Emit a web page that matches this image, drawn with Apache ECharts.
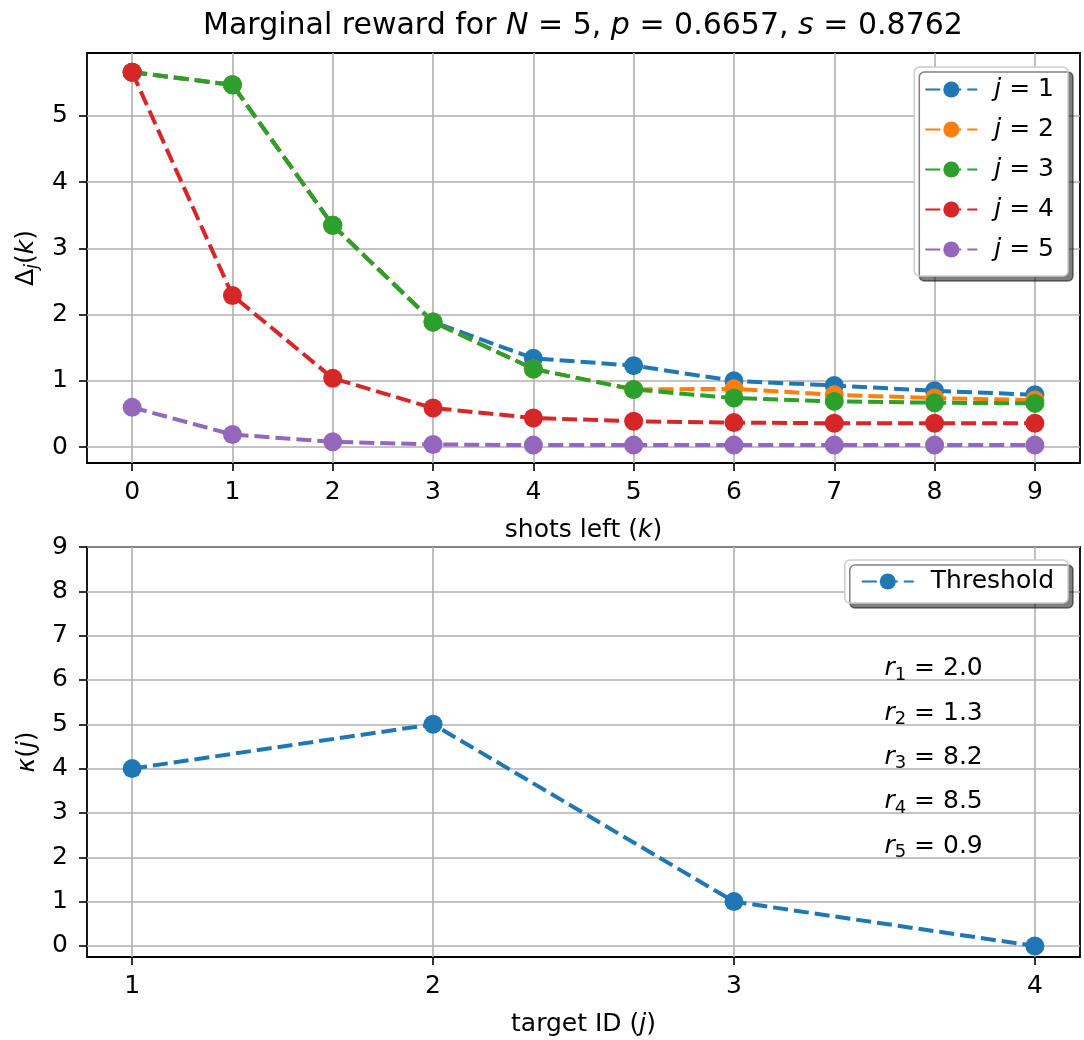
<!DOCTYPE html>
<html>
<head>
<meta charset="utf-8">
<script src="https://cdn.jsdelivr.net/npm/echarts@6/dist/echarts.min.js"></script>
<style>
html, body { margin: 0; padding: 0; background: #fff; }
#main { width: 1084px; height: 1040px; }
</style>
</head>
<body>
<div id="main"></div>
<script>
// top panel: marginal reward per target
const shotsLeft = [0, 1, 2, 3, 4, 5, 6, 7, 8, 9]
const deltaJ1 = [5.66, 5.47, 3.35, 1.89, 1.34, 1.23, 1.00, 0.93, 0.85, 0.79]
const deltaJ2 = [5.66, 5.47, 3.35, 1.89, 1.18, 0.87, 0.88, 0.79, 0.74, 0.71]
const deltaJ3 = [5.66, 5.47, 3.35, 1.89, 1.18, 0.87, 0.74, 0.69, 0.67, 0.66]
const deltaJ4 = [5.66, 2.29, 1.04, 0.59, 0.44, 0.39, 0.37, 0.36, 0.36, 0.36]
const deltaJ5 = [0.60, 0.19, 0.08, 0.04, 0.03, 0.03, 0.03, 0.03, 0.03, 0.03]
const topYTicks = [0, 1, 2, 3, 4, 5]

// bottom panel: threshold per target
const targetIds = [1, 2, 3, 4]
const thresholds = [4, 5, 1, 0]
const bottomYTicks = [0, 1, 2, 3, 4, 5, 6, 7, 8, 9]
const rewards = [2.0, 1.3, 8.2, 8.5, 0.9]

const colors = ['#1f77b4', '#ff7f0e', '#2ca02c', '#d62728', '#9467bd']
const FONT = 'DejaVu Sans'
const FS = 25

const richText = {
  n: { fontFamily: FONT, fontSize: FS, color: '#000', lineHeight: 30 },
  i: { fontFamily: FONT, fontSize: FS, color: '#000', fontStyle: 'italic', lineHeight: 30 },
  s: { fontFamily: FONT, fontSize: 18, color: '#000', lineHeight: 13, verticalAlign: 'bottom' },
  si: { fontFamily: FONT, fontSize: 18, color: '#000', fontStyle: 'italic', lineHeight: 13, verticalAlign: 'bottom' }
}

function makeAxis (opts) {
  const base = {
    type: 'value',
    axisLine: { show: false, onZero: false },
    axisTick: {
      show: true,
      length: 8,
      lineStyle: { color: '#000', width: 1.6 },
      customValues: opts.ticks
    },
    axisLabel: {
      customValues: opts.ticks,
      color: '#000',
      fontFamily: FONT,
      fontSize: FS,
      margin: opts.labelMargin
    },
    splitLine: { show: true, lineStyle: { color: '#b0b0b0', width: 1.6 } },
    nameLocation: 'middle',
    nameTextStyle: { rich: richText }
  }
  delete opts.ticks
  delete opts.labelMargin
  return Object.assign(base, opts)
}

function lineSeries (name, values, idx) {
  return {
    name: name,
    type: 'line',
    xAxisIndex: 0,
    yAxisIndex: 0,
    data: shotsLeft.map((k, i) => [k, values[i]]),
    symbol: 'circle',
    symbolSize: 19,
    itemStyle: { color: colors[idx] },
    lineStyle: { color: colors[idx], width: 4, type: [15, 6] },
    emphasis: { disabled: true }
  }
}

const legendBox = {
  orient: 'vertical',
  backgroundColor: '#fff',
  borderColor: '#ccc',
  borderWidth: 1.5,
  borderRadius: 5,
  shadowColor: 'rgba(0,0,0,0.5)',
  shadowOffsetX: 5,
  shadowOffsetY: 5,
  shadowBlur: 0,
  itemWidth: 52,
  itemHeight: 20,
  textStyle: {
    fontFamily: FONT,
    fontSize: FS,
    color: '#000',
    padding: [0, 0, 0, 12],
    rich: { i: { fontFamily: FONT, fontSize: FS, fontStyle: 'italic', color: '#000' } }
  }
}

const option = {
  animation: false,
  backgroundColor: '#fff',
  graphic: [{
    type: 'text',
    x: 583,
    y: 26,
    style: {
      text: '{n|Marginal reward for }{i|N}{n| = 5, }{i|p}{n| = 0.6657, }{i|s}{n| = 0.8762}',
      rich: {
        n: { fontFamily: FONT, fontSize: 30, color: '#000' },
        i: { fontFamily: FONT, fontSize: 30, color: '#000', fontStyle: 'italic' }
      },
      align: 'center',
      verticalAlign: 'middle'
    }
  }],
  grid: [
    { left: 87, right: 4, top: 53, height: 410, show: true, borderColor: '#000', borderWidth: 1.8, backgroundColor: 'transparent' },
    { left: 87, right: 4, top: 547, height: 410, show: true, borderColor: '#000', borderWidth: 1.8, backgroundColor: 'transparent' }
  ],
  legend: [
    Object.assign({}, legendBox, {
      data: ['j = 1', 'j = 2', 'j = 3', 'j = 4', 'j = 5'],
      right: 16,
      top: 67,
      padding: [10, 14, 14, 10],
      itemGap: 15,
      formatter: name => name.replace('j', '{i|j}')
    }),
    Object.assign({}, legendBox, {
      data: ['Threshold'],
      right: 16,
      top: 560,
      padding: [9, 14, 9, 16]
    })
  ],
  xAxis: [
    makeAxis({
      gridIndex: 0, min: -0.45, max: 9.45, ticks: shotsLeft, labelMargin: 17,
      name: '{n|shots left (}{i|k}{n|)}', nameGap: 52
    }),
    makeAxis({
      gridIndex: 1, min: 0.85, max: 4.15, ticks: targetIds, labelMargin: 17,
      name: '{n|target ID (}{i|j}{n|)}', nameGap: 52
    })
  ],
  yAxis: [
    makeAxis({
      gridIndex: 0, min: -0.24, max: 5.95, ticks: topYTicks, labelMargin: 19,
      name: '{n|Δ}{si|j}{n|(}{i|k}{n|)}', nameGap: 45, nameRotate: 90
    }),
    makeAxis({
      gridIndex: 1, min: -0.25, max: 9, ticks: bottomYTicks, labelMargin: 19,
      name: '{i|κ}{n|(}{i|j}{n|)}', nameGap: 45, nameRotate: 90
    })
  ],
  series: [
    lineSeries('j = 1', deltaJ1, 0),
    lineSeries('j = 2', deltaJ2, 1),
    lineSeries('j = 3', deltaJ3, 2),
    lineSeries('j = 4', deltaJ4, 3),
    lineSeries('j = 5', deltaJ5, 4),
    {
      name: 'Threshold',
      type: 'line',
      xAxisIndex: 1,
      yAxisIndex: 1,
      data: targetIds.map((t, i) => [t, thresholds[i]]),
      symbol: 'circle',
      symbolSize: 19,
      itemStyle: { color: colors[0] },
      lineStyle: { color: colors[0], width: 4, type: [15, 6] },
      emphasis: { disabled: true }
    },
    {
      name: 'rewards',
      type: 'scatter',
      xAxisIndex: 1,
      yAxisIndex: 1,
      silent: true,
      symbolSize: 0,
      itemStyle: { opacity: 1 },
      data: rewards.map((r, i) => [3.5, 6.25 - i, r]),
      label: {
        show: true,
        position: 'right',
        distance: 0,
        color: '#000',
        opacity: 1,
        formatter: p => '{i|r}{s|' + (p.dataIndex + 1) + '}{n| = ' + p.value[2].toFixed(1) + '}',
        rich: richText
      }
    }
  ]
}

const myChart = echarts.init(document.getElementById('main'))
myChart.setOption(option)
</script>
</body>
</html>
